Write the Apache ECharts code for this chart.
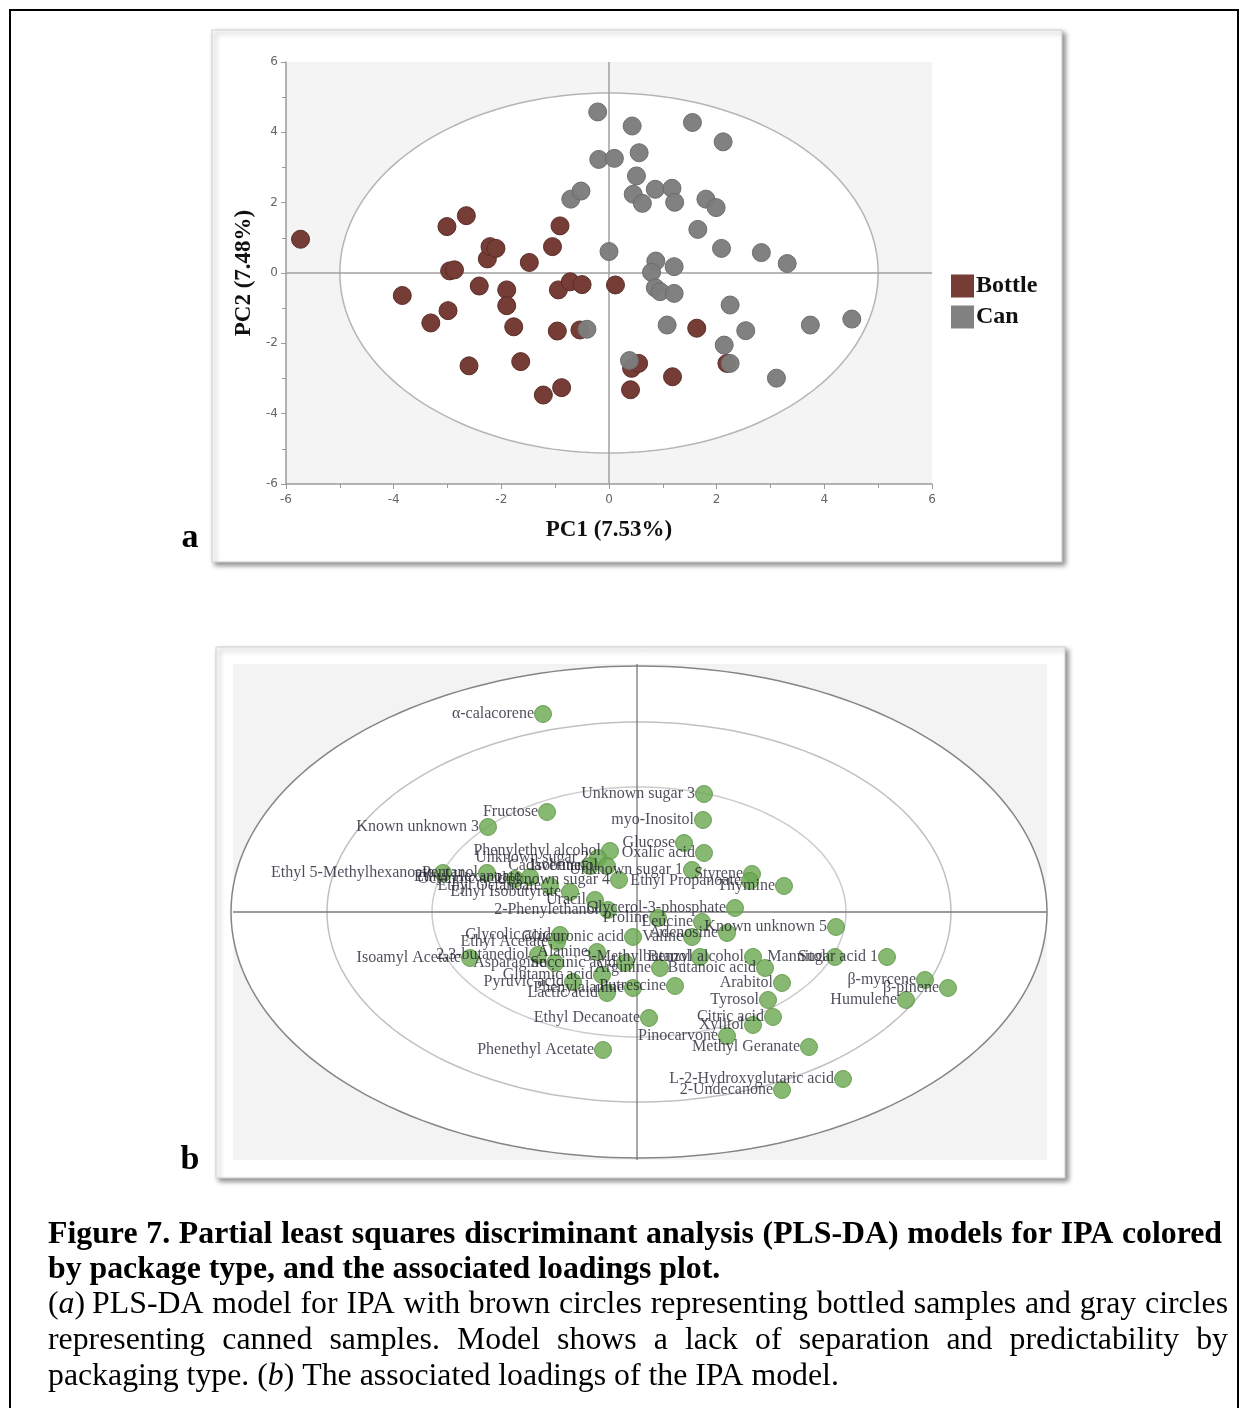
<!DOCTYPE html>
<html><head><meta charset="utf-8">
<script src="https://cdn.jsdelivr.net/npm/echarts@6/dist/echarts.min.js"></script>
<style>html,body{margin:0;padding:0;background:#fff;} #c{width:1248px;height:1408px;}</style>
</head><body><div id="c"></div>
<script>
// ---------- Panel (a): PLS-DA scores ----------
const scoreTicks = [-6, -4, -2, 0, 2, 4, 6];
const bottleScores = [
  [-5.73, 0.96], [-3.84, -0.64], [-3.31, -1.42], [-3.01, 1.32], [-2.99, -1.07],
  [-2.96, 0.06], [-2.87, 0.09], [-2.65, 1.63], [-2.60, -2.64], [-2.41, -0.37],
  [-2.26, 0.40], [-2.21, 0.75], [-2.10, 0.70], [-1.90, -0.48], [-1.90, -0.93],
  [-1.77, -1.53], [-1.64, -2.52], [-1.48, 0.30], [-1.22, -3.47], [-1.05, 0.75],
  [-0.91, 1.34], [-0.94, -0.48], [-0.96, -1.65], [-0.88, -3.26], [-0.72, -0.25],
  [-0.50, -0.33], [-0.54, -1.62], [0.12, -0.34], [0.42, -2.71], [0.55, -2.57],
  [0.40, -3.32], [1.18, -2.95], [1.63, -1.57], [2.19, -2.57]
];
const canScores = [
  [-0.21, 4.58], [0.43, 4.18], [1.55, 4.28], [2.12, 3.73], [-0.19, 3.23],
  [0.10, 3.26], [0.56, 3.42], [0.51, 2.76], [-0.71, 2.10], [-0.52, 2.33],
  [0.45, 2.24], [0.62, 1.98], [0.86, 2.38], [1.17, 2.41], [1.22, 2.01],
  [1.80, 2.10], [1.99, 1.86], [1.65, 1.24], [2.09, 0.70], [2.83, 0.58],
  [3.31, 0.27], [0.00, 0.61], [0.87, 0.34], [1.21, 0.18], [0.79, 0.02],
  [0.86, -0.42], [0.95, -0.53], [1.21, -0.58], [2.25, -0.91], [1.08, -1.48],
  [2.54, -1.64], [3.74, -1.48], [4.51, -1.31], [-0.41, -1.60], [2.14, -2.05],
  [2.25, -2.57], [0.38, -2.49], [3.11, -2.99]
];
const scoreEllipse = [0, 0, 5.0, 5.12]; // cx, cy, rx, ry (confidence ellipse)

// ---------- Panel (b): loadings ----------
const loadingNames = [
  'α-calacorene', 'Unknown sugar 3', 'Fructose', 'myo-Inositol', 'Known unknown 3',
  'Glucose', 'Oxalic acid', 'Phenylethyl alcohol', 'Unknown sugar 2', 'Cadaverine',
  'Isobutanol', 'Unknown sugar 1', 'Styrene', 'Ethyl Propanoate', 'Thymine',
  'Unknown sugar 4', 'Ethyl 5-Methylhexanoate', 'Pentanol', 'Octanoic acid', 'Ethyl Hexanoate',
  'Ethyl Octanoate', 'Ethyl Isobutyrate', 'Uracil', '2-Phenylethanol', 'Glycerol-3-phosphate',
  'Proline', 'Leucine', 'Known unknown 5', 'Glucuronic acid', 'Valine',
  'Adenosine', 'Glycolic acid', 'Ethyl Acetate', 'Isoamyl Acetate', '2,3-butanediol',
  'Asparagine', 'Alanine', 'Succinic acid', '3-Methylbutanol', 'Benzyl alcohol',
  'Mannitol', 'Sugar acid 1', 'Arginine', 'Butanoic acid', 'Glutamic acid',
  'Pyruvic acid', 'Lactic acid', 'Phenylalanine', 'Putrescine', 'Arabitol',
  'Tyrosol', 'β-myrcene', 'β-pinene', 'Humulene', 'Citric acid',
  'Xylitol', 'Ethyl Decanoate', 'Pinocarvone', 'Methyl Geranate', 'Phenethyl Acetate',
  'L-2-Hydroxyglutaric acid', '2-Undecanone'
];
const loadingX = [
  -0.094, 0.067, -0.090, 0.066, -0.149,
  0.047, 0.067, -0.027, -0.039, -0.047,
  -0.030, 0.055, 0.115, 0.113, 0.147,
  -0.018, -0.194, -0.150, -0.122, -0.107,
  -0.087, -0.067, -0.042, -0.029, 0.098,
  0.021, 0.065, 0.199, -0.004, 0.055,
  0.090, -0.077, -0.080, -0.167, -0.099,
  -0.082, -0.040, -0.012, 0.063, 0.116,
  0.198, 0.250, 0.023, 0.128, -0.035,
  -0.064, -0.030, -0.004, 0.038, 0.145,
  0.131, 0.288, 0.311, 0.269, 0.136,
  0.116, 0.012, 0.090, 0.172, -0.034,
  0.206, 0.145
];
const loadingY = [
  0.198, 0.118, 0.100, 0.092, 0.085,
  0.069, 0.059, 0.061, 0.054, 0.046,
  0.046, 0.042, 0.038, 0.031, 0.026,
  0.032, 0.039, 0.039, 0.033, 0.035,
  0.026, 0.020, 0.012, 0.002, 0.004,
  -0.006, -0.010, -0.015, -0.025, -0.025,
  -0.021, -0.023, -0.030, -0.046, -0.043,
  -0.051, -0.040, -0.051, -0.045, -0.045,
  -0.045, -0.045, -0.056, -0.056, -0.063,
  -0.070, -0.081, -0.076, -0.074, -0.071,
  -0.088, -0.068, -0.076, -0.088, -0.105,
  -0.113, -0.106, -0.124, -0.135, -0.138,
  -0.167, -0.178
];
const loadingRange = { xMin: -0.404, xMax: 0.410, yMin: -0.248, yMax: 0.248 };
const loadingEllipses = [ // rx, ry, stroke
  [0.408, 0.246, '#858585'],
  [0.312, 0.190, '#c0c0c0'],
  [0.207, 0.125, '#cccccc']
];

// ---------- Caption ----------
const captionBold = [
  'Figure 7. Partial least squares discriminant analysis (PLS-DA) models for IPA colored',
  'by package type, and the associated loadings plot.'
];
const captionRegular = [
  '(a) PLS-DA model for IPA with brown circles representing bottled samples and gray circles',
  'representing canned samples. Model shows a lack of separation and predictability by',
  'packaging type. (b) The associated loadings of the IPA model.'
];

const SERIF = '"Liberation Serif", "Times New Roman", serif';

function ellipsePoly(api, cx, cy, rx, ry) {
  const pts = [];
  for (let i = 0; i <= 180; i++) {
    const t = i / 180 * Math.PI * 2;
    pts.push(api.coord([cx + rx * Math.cos(t), cy + ry * Math.sin(t)]));
  }
  return pts;
}

const chart = echarts.init(document.getElementById('c'), null, { renderer: 'canvas' });

// caption layout (font sized so the full lines fit, justified lines)
const cvs = document.createElement('canvas');
const ctx = cvs.getContext('2d');
function measure(txt, font) { ctx.font = font; return ctx.measureText(txt).width; }
const boldSize = Math.floor(10 * 100 * 1168 / measure(captionBold[0], 'bold 100px ' + SERIF)) / 10;
const regSize = Math.floor(10 * 100 * 1172 / measure(captionRegular[0], '100px ' + SERIF)) / 10;
const capLeft = 48;
const capLines = [
  { text: captionBold[0], bold: true, justify: true, y: 1235, right: 1222 },
  { text: captionBold[1], bold: true, justify: false, y: 1270 },
  { text: captionRegular[0], bold: false, justify: true, y: 1305, right: 1228 },
  { text: captionRegular[1], bold: false, justify: true, y: 1341, right: 1228 },
  { text: captionRegular[2], bold: false, justify: false, y: 1377 }
];
const capGraphics = [];
capLines.forEach(line => {
  const size = line.bold ? boldSize : regSize;
  const font = (line.bold ? 'bold ' : '') + size + 'px ' + SERIF;
  const words = line.text.split(' ');
  const widths = words.map(w => measure(w, font));
  const total = widths.reduce((a, b) => a + b, 0);
  const space = line.justify ? (line.right - capLeft - total) / (words.length - 1) : measure(' ', font);
  let x = capLeft;
  words.forEach((w, i) => {
    let txt = w, rich;
    const m = w.match(/^\(([ab])\)$/);
    if (m) {
      txt = '({it|' + m[1] + '})';
      rich = { it: { fontStyle: 'italic', fontSize: size, fontFamily: SERIF, fill: '#000' } };
    }
    capGraphics.push({
      type: 'text', x: x, y: line.y, z: 100,
      style: {
        text: txt, rich: rich, fill: '#000', fontSize: size, fontFamily: SERIF,
        fontWeight: line.bold ? 'bold' : 'normal', verticalAlign: 'middle', align: 'left'
      }
    });
    x += widths[i] + space;
  });
});

const axisGray = '#9a9a9a';

const option = {
  animation: false,
  backgroundColor: '#ffffff',
  graphic: [
    { type: 'rect', z: -10, shape: { x: 10, y: 10, width: 1228, height: 1430 },
      style: { fill: '#fff', stroke: '#000', lineWidth: 2 } },
    { type: 'rect', z: -5, shape: { x: 212, y: 30, width: 850, height: 532 },
      style: { fill: '#fff', stroke: '#cfcfcf', lineWidth: 1,
        shadowBlur: 5, shadowOffsetX: 3, shadowOffsetY: 3, shadowColor: 'rgba(0,0,0,0.45)' } },
    { type: 'rect', z: -5, shape: { x: 216, y: 647, width: 849, height: 531 },
      style: { fill: '#fff', stroke: '#cfcfcf', lineWidth: 1,
        shadowBlur: 5, shadowOffsetX: 3, shadowOffsetY: 3, shadowColor: 'rgba(0,0,0,0.45)' } },
    { type: 'text', x: 190, y: 538, z: 100,
      style: { text: 'a', fill: '#000', fontSize: 34, fontWeight: 'bold', fontFamily: SERIF, align: 'center', verticalAlign: 'middle' } },
    { type: 'text', x: 190, y: 1160, z: 100,
      style: { text: 'b', fill: '#000', fontSize: 34, fontWeight: 'bold', fontFamily: SERIF, align: 'center', verticalAlign: 'middle' } }
  ].concat(capGraphics),
  legend: {
    data: ['Bottle', 'Can'], orient: 'vertical', left: 946, top: 269,
    itemWidth: 23, itemHeight: 23, itemGap: 7, icon: 'rect',
    itemStyle: { borderWidth: 0 },
    textStyle: { fontFamily: SERIF, fontWeight: 'bold', fontSize: 24, color: '#111', padding: [0, 0, 0, -3] }
  },
  grid: [
    { left: 286, top: 62, width: 646, height: 422, show: true, backgroundColor: '#f4f4f4', borderWidth: 0 },
    { left: 233, top: 664, width: 814, height: 496, show: true, backgroundColor: '#f3f3f3', borderWidth: 0 }
  ],
  xAxis: [
    { gridIndex: 0, type: 'value', min: scoreTicks[0], max: scoreTicks[scoreTicks.length - 1], interval: 2,
      name: 'PC1 (7.53%)', nameLocation: 'middle', nameGap: 35,
      nameTextStyle: { fontFamily: SERIF, fontWeight: 'bold', fontSize: 23, color: '#111' },
      axisLine: { show: true, onZero: false, lineStyle: { color: axisGray, width: 1.5 } },
      axisTick: { show: true, length: 5, lineStyle: { color: axisGray } },
      minorTick: { show: true, splitNumber: 2, length: 4, lineStyle: { color: axisGray } },
      axisLabel: { color: '#666', fontSize: 12, margin: 10, fontFamily: '"DejaVu Sans", sans-serif' },
      splitLine: { show: false } },
    { gridIndex: 1, type: 'value', min: loadingRange.xMin, max: loadingRange.xMax, show: false, splitLine: { show: false } }
  ],
  yAxis: [
    { gridIndex: 0, type: 'value', min: scoreTicks[0], max: scoreTicks[scoreTicks.length - 1], interval: 2,
      name: 'PC2 (7.48%)', nameLocation: 'middle', nameGap: 21,
      nameTextStyle: { fontFamily: SERIF, fontWeight: 'bold', fontSize: 23, color: '#111' },
      axisLine: { show: true, onZero: false, lineStyle: { color: axisGray, width: 1.5 } },
      axisTick: { show: true, length: 5, lineStyle: { color: axisGray } },
      minorTick: { show: true, splitNumber: 2, length: 4, lineStyle: { color: axisGray } },
      axisLabel: { color: '#666', fontSize: 12, margin: 8, fontFamily: '"DejaVu Sans", sans-serif' },
      splitLine: { show: false } },
    { gridIndex: 1, type: 'value', min: loadingRange.yMin, max: loadingRange.yMax, show: false, splitLine: { show: false } }
  ],
  series: [
    { type: 'custom', xAxisIndex: 0, yAxisIndex: 0, z: 1, silent: true, data: [[0, 0]],
      renderItem: function (params, api) {
        const [cx, cy, rx, ry] = scoreEllipse;
        const a = api.coord([0, scoreTicks[0]]), b = api.coord([0, scoreTicks[scoreTicks.length - 1]]);
        const c = api.coord([scoreTicks[0], 0]), d = api.coord([scoreTicks[scoreTicks.length - 1], 0]);
        return { type: 'group', children: [
          { type: 'polygon', shape: { points: ellipsePoly(api, cx, cy, rx, ry) }, style: { fill: '#fff', stroke: '#b5b5b5', lineWidth: 1.5 } },
          { type: 'line', shape: { x1: a[0], y1: a[1], x2: b[0], y2: b[1] }, style: { stroke: '#a0a0a0', lineWidth: 1.5 } },
          { type: 'line', shape: { x1: c[0], y1: c[1], x2: d[0], y2: d[1] }, style: { stroke: '#a0a0a0', lineWidth: 1.5 } }
        ] };
      } },
    { name: 'Bottle', type: 'scatter', xAxisIndex: 0, yAxisIndex: 0, z: 3, data: bottleScores, symbolSize: 18,
      itemStyle: { color: '#763c36', borderColor: '#5a2c27', borderWidth: 1, opacity: 1 } },
    { name: 'Can', type: 'scatter', xAxisIndex: 0, yAxisIndex: 0, z: 4, data: canScores, symbolSize: 18,
      itemStyle: { color: '#7d7d7d', borderColor: '#6a6a6a', borderWidth: 1, opacity: 0.97 } },
    { type: 'custom', xAxisIndex: 1, yAxisIndex: 1, z: 1, silent: true, data: [[0, 0]],
      renderItem: function (params, api) {
        const kids = loadingEllipses.map((e, i) => ({
          type: 'polygon', shape: { points: ellipsePoly(api, 0.002, 0, e[0], e[1]) },
          style: { fill: i === 0 ? '#fff' : 'none', stroke: e[2], lineWidth: 1.5 }
        }));
        const a = api.coord([0, loadingRange.yMin]), b = api.coord([0, loadingRange.yMax]);
        const c = api.coord([loadingRange.xMin, 0]), d = api.coord([loadingRange.xMax, 0]);
        kids.push({ type: 'line', shape: { x1: a[0], y1: a[1], x2: b[0], y2: b[1] }, style: { stroke: '#7a7a7a', lineWidth: 1.3 } });
        kids.push({ type: 'line', shape: { x1: c[0], y1: c[1], x2: d[0], y2: d[1] }, style: { stroke: '#7a7a7a', lineWidth: 1.3 } });
        return { type: 'group', children: kids };
      } },
    { name: 'Loadings', type: 'scatter', xAxisIndex: 1, yAxisIndex: 1, z: 3, symbolSize: 17,
      data: loadingNames.map((n, i) => ({ name: n, value: [loadingX[i], loadingY[i]] })),
      itemStyle: { color: '#6aa84f', borderColor: '#57913e', borderWidth: 1 },
      label: { show: true, position: 'left', distance: 0, formatter: '{b}',
        fontFamily: SERIF, fontSize: 16, color: '#221f2e' },
      labelLayout: { hideOverlap: false } }
  ]
};
chart.setOption(option);
</script>
</body></html>
